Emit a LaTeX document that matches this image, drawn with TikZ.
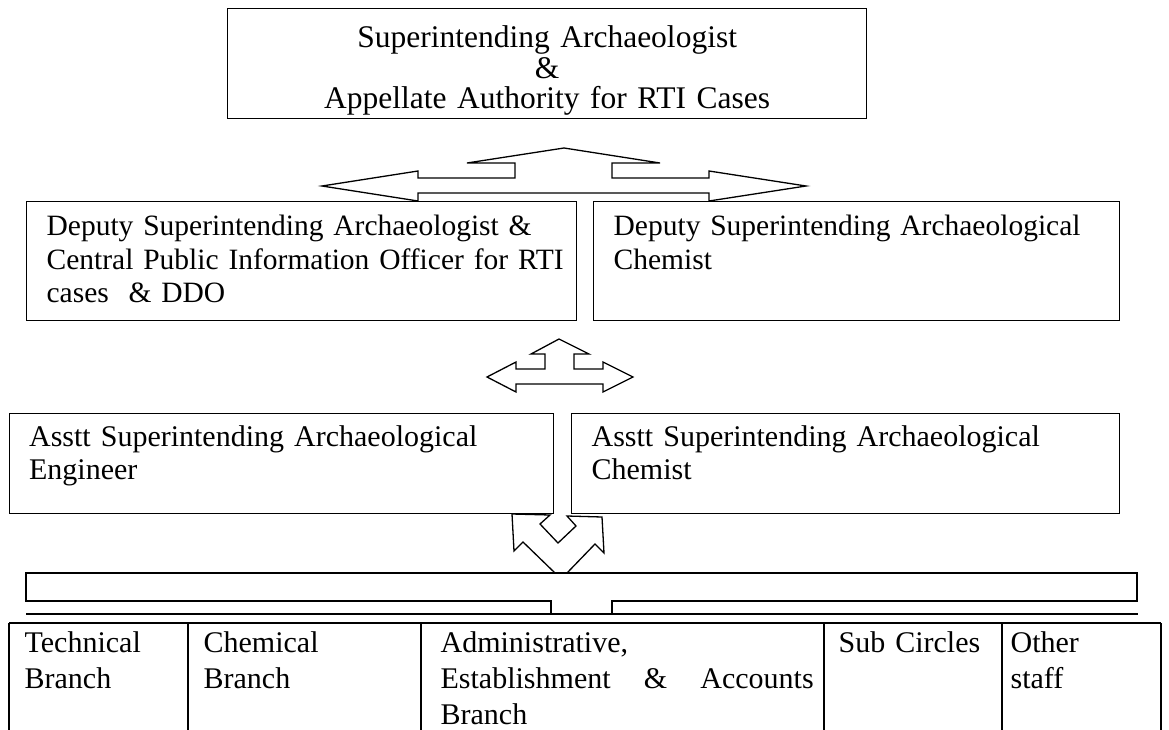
\documentclass[tikz,border=0pt]{standalone}
\usepackage{fontspec}
\setmainfont{Liberation Serif}
\usetikzlibrary{calc,positioning}
\hyphenpenalty=10000

\begin{document}
\begin{tikzpicture}[x=1pt,y=-1pt,line width=1.3pt,line join=miter,
  office/.style={draw,anchor=north west,align=left,inner xsep=20pt,inner ysep=0pt,
    font=\fontsize{30}{33}\selectfont},
  cell/.style={anchor=north west,align=left,inner ysep=0pt,inner xsep=15pt,
    text height=29pt,font=\fontsize{30}{36}\selectfont},
  blockarrow/.style={draw,fill=white}]
  \useasboundingbox (0,0) rectangle (1169,730);

  \node[draw,anchor=north west,align=center,inner sep=0pt,text width=639pt,
    text height=39pt,text depth=71pt,font=\fontsize{31.5}{30.5}\selectfont]
    (sa) at (227,8) {Superintending Archaeologist\\ \&\\ Appellate Authority for RTI Cases};

  \node[office,text width=510pt,text height=34pt,text depth=85pt,
    font=\fontsize{29.5}{33.5}\selectfont] (dsa) at (26,201)
    {Deputy Superintending Archaeologist \&\\
     \mbox{Central Public Information Officer for RTI}\\ cases~~\& DDO};
  \node[office,text width=486pt,text height=34pt,text depth=85pt,
    font=\fontsize{29.5}{33.5}\selectfont] (dsac) at (593,201)
    {Deputy Superintending Archaeological\\ Chemist};

  \node[office,text width=504pt,text height=33pt,text depth=67pt] (asae) at (8.5,413)
    {Asstt Superintending Archaeological\\ Engineer};
  \node[office,text width=508pt,text height=33pt,text depth=67pt] (asac) at (571,413)
    {Asstt Superintending Archaeological\\ Chemist};

  % arrows between the levels
  \draw[blockarrow] (564,148) -- (660,163) -- (612,163) -- (612,178) -- (709,178) -- (709,171)
    -- (806,186) -- (709,201) -- (709,193) -- (418,193) -- (418,201) -- (322,186) -- (418,171)
    -- (418,178) -- (515,178) -- (515,163) -- (467,163) -- cycle;
  \draw[blockarrow] (559,339) -- (589,354) -- (574,354) -- (574,369) -- (603,369) -- (603,362)
    -- (633,377) -- (603,392) -- (603,384) -- (516,384) -- (516,392) -- (487,377) -- (516,362)
    -- (516,369) -- (545,369) -- (545,354) -- (531,354) -- cycle;
  \draw[blockarrow] (555,573) -- (523,542) -- (514,551) -- (512,514) -- (550,515) -- (540,524)
    -- (558,543) -- (576,526) -- (567,516) -- (602,517) -- (604,553) -- (595,544) -- (567,573);

  \coordinate (barl) at (26,614);
  \coordinate (barr) at (1138,614);
  \draw (551,614) -- (551,601) -- (26,601) -- (26,573) -- (1137,573) -- (1137,601)
    -- (612,601) -- (612,614);
  \draw (barl) -- (barr);

  % branches
  \draw[line width=1.6pt] (9,623) -- (1161,623);
  \foreach \x in {9,188,421,824,1002,1161}
    \draw[line width=1.6pt] (\x,623) -- (\x,730);

  \node[cell,text width=149pt] (tech) at (9,623) {Technical\\ Branch};
  \node[cell,text width=203pt] (chem) at (188,623) {Chemical\\ Branch};
  \node[cell,text width=373pt,align=justify,inner xsep=19pt] (admin) at (421,623)
    {Administrative,\\ Establishment \& Accounts Branch};
  \node[cell,text width=150pt,inner xsep=14pt] (subc) at (824,623) {Sub Circles};
  \node[cell,text width=143pt,inner xsep=8pt] (other) at (1002,623) {Other\\ staff};
\end{tikzpicture}
\end{document}
